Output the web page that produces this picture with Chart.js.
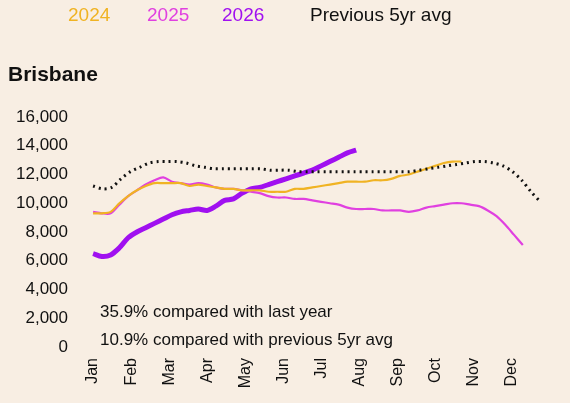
<!DOCTYPE html><html><head><meta charset="utf-8">
<script src="https://cdn.jsdelivr.net/npm/chart.js@4"></script>
<style>
body{margin:0;background:#f8eee3;font-family:"Liberation Sans",Arial,sans-serif;}
#wrap{position:relative;width:570px;height:403px;}
#leg{position:absolute;top:4px;left:68px;font-size:19px;white-space:nowrap}
#leg span{position:absolute;top:0}
#title{position:absolute;top:62px;left:8px;font-size:21px;font-weight:bold;color:#111}
canvas{position:absolute;left:0;top:0}
</style></head><body><div id="wrap">
<canvas id="c" width="570" height="403"></canvas>
<div id="leg"><span style="left:0;color:#f0b323">2024</span><span style="left:79px;color:#e040e0">2025</span><span style="left:154px;color:#a010f0">2026</span><span style="left:242px;color:#111">Previous 5yr avg</span></div>
<div id="title">Brisbane</div>
</div>
<script>
const months=["Jan","Feb","Mar","Apr","May","Jun","Jul","Aug","Sep","Oct","Nov","Dec"];
const yTicks=[0,2000,4000,6000,8000,10000,12000,14000,16000];
const s2026=[6500,6300,6400,6900,7600,8000,8300,8600,8900,9200,9400,9500,9600,9500,9800,10200,10300,10700,11000,11100,11300,11500,11700,11900,12100,12300,12600,12900,13200,13500,13700];
const s2024=[9300,9300,9400,10000,10500,10900,11200,11400,11400,11400,11400,11200,11300,11200,11100,11000,11000,10900,10900,10900,10800,10800,10800,11000,11000,11100,11200,11300,11400,11500,11500,11500,11600,11600,11700,11900,12000,12200,12400,12600,12800,12900,12900];
const s2025=[9400,9300,9300,9900,10500,10900,11300,11600,11800,11500,11400,11300,11400,11300,11100,11000,11000,10900,10800,10700,10500,10400,10400,10300,10300,10200,10100,10000,9900,9700,9600,9600,9600,9500,9500,9500,9400,9500,9700,9800,9900,10000,10000,9900,9800,9500,9100,8500,7800,7100];
const avg=[11200,11000,11100,11700,12200,12500,12800,12900,12900,12900,12800,12600,12500,12400,12400,12400,12400,12400,12400,12300,12300,12300,12200,12200,12200,12200,12200,12200,12200,12200,12200,12200,12200,12200,12200,12300,12400,12500,12600,12700,12800,12900,12900,12800,12600,12200,11600,10800,10100];
const notes=["35.9% compared with last year","10.9% compared with previous 5yr avg"];
const wk=a=>a.map((v,i)=>({x:i*(51/(avg.length-1)),y:v}));
const wk2=a=>a.map((v,i)=>({x:i,y:v}));
const notePlugin={id:'notes',afterDatasetsDraw(ch){const c=ch.ctx;c.save();c.fillStyle='#111';c.font='17px "Liberation Sans",Arial';c.textBaseline='middle';c.fillText(notes[0],100,312);c.fillText(notes[1],100,340);c.restore();}};
new Chart(document.getElementById('c'),{type:'line',
data:{datasets:[
{data:wk(avg),borderColor:'#111',borderWidth:3,borderDash:[2,4],pointRadius:0,tension:0.3},
{data:wk2(s2024),borderColor:'#f0b323',borderWidth:2.2,pointRadius:0,tension:0.3},
{data:wk2(s2025),borderColor:'#e040e0',borderWidth:2.2,pointRadius:0,tension:0.3},
{data:wk2(s2026),borderColor:'#a010f0',borderWidth:5,pointRadius:0,tension:0.3}]},
options:{responsive:false,animation:false,layout:{padding:{top:117,right:27,left:0,bottom:0}},
plugins:{legend:{display:false},tooltip:{enabled:false}},
scales:{
x:{type:'linear',min:-0.35,max:51.3,grid:{display:false},border:{display:false},
afterBuildTicks(a){a.ticks=months.map((m,i)=>({value:i*51/11.75}));},
afterFit(a){a.height=56;},
ticks:{maxRotation:90,minRotation:90,color:'#111',font:{size:16,family:'Liberation Sans'},callback:(v,i)=>months[i]}},
y:{min:0,max:16000,grid:{display:false},border:{display:false},
afterBuildTicks(a){a.ticks=yTicks.map(v=>({value:v}));},
afterFit(a){a.width=90;},
ticks:{padding:14,color:'#111',font:{size:17,family:'Liberation Sans'},callback:v=>v.toLocaleString('en-US')}}}},
plugins:[notePlugin]});
</script></body></html>
